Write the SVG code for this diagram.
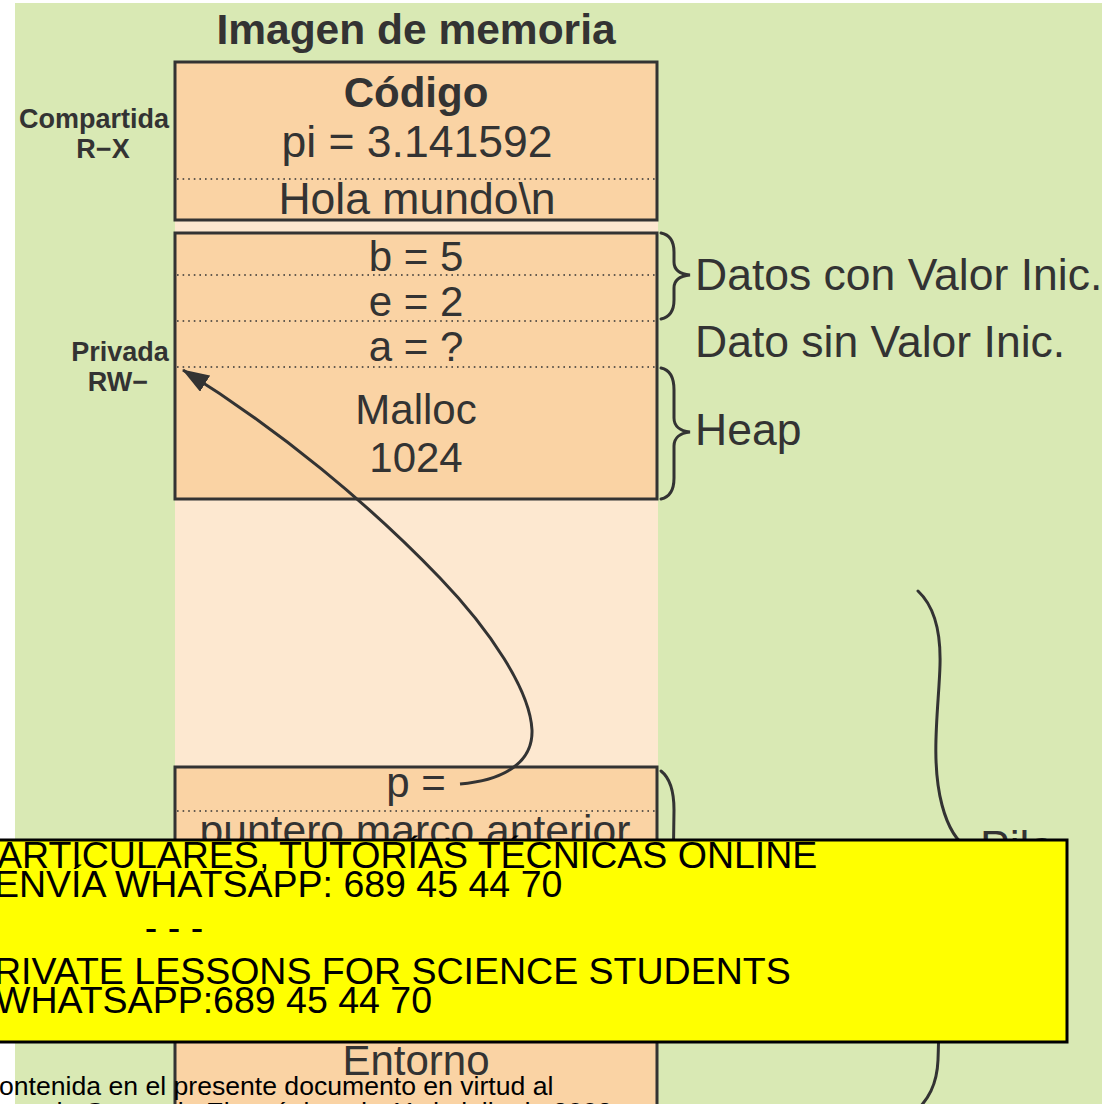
<svg xmlns="http://www.w3.org/2000/svg" width="1102" height="1104" viewBox="0 0 1102 1104">
<style>
  .t { font-family: "Liberation Sans", Arial, sans-serif; fill: #333333; }
  .main { font-size: 42px; text-anchor: middle; }
  .big { font-size: 44.5px; }
  .side { font-size: 44.5px; }
  .bold { font-weight: bold; }
  .small { font-size: 27px; font-weight: bold; text-anchor: middle; }
  .box { fill: #fad3a4; stroke: #333333; stroke-width: 3; }
  .dot { stroke: #333333; stroke-width: 1.6; stroke-dasharray: 1.6 4; fill: none; }
  .brace { fill: none; stroke: #333333; stroke-width: 3; stroke-linecap: round; }
  .wm { font-family: "Liberation Sans", Arial, sans-serif; font-size: 37.5px; fill: #000000; }
  .foot { font-family: "Liberation Sans", Arial, sans-serif; font-size: 26.6px; fill: #000000; }
</style>
<defs>
  <marker id="arrow" viewBox="0 0 27 19" refX="26" refY="9.5" markerWidth="27" markerHeight="19" markerUnits="userSpaceOnUse" orient="auto">
    <path d="M0,0 L27,9.5 L0,19 z" fill="#333333"/>
  </marker>
</defs>

<rect x="0" y="0" width="1102" height="1104" fill="#ffffff"/>
<rect id="background" x="15" y="3" width="1087" height="1101" fill="#d9e9b4"/>
<rect id="column" x="175" y="221" width="483" height="883" fill="#fde8d0"/>

<text class="t bold" x="416" y="44" font-size="42.5" text-anchor="middle">Imagen de memoria</text>

<g id="node-codigo">
  <rect class="box" x="175" y="62" width="482" height="158"/>
  <line class="dot" x1="177" y1="179" x2="655" y2="179"/>
  <text class="t main bold" x="416" y="107">Código</text>
  <text class="t main big" x="417" y="157">pi = 3.141592</text>
  <text class="t main big" x="417" y="214">Hola mundo\n</text>
</g>

<g id="node-datos">
  <rect class="box" x="175" y="233" width="482" height="266"/>
  <line class="dot" x1="177" y1="275" x2="655" y2="275"/>
  <line class="dot" x1="177" y1="321" x2="655" y2="321"/>
  <line class="dot" x1="177" y1="367" x2="655" y2="367"/>
  <text class="t main" x="416" y="271">b = 5</text>
  <text class="t main" x="416" y="316">e = 2</text>
  <text class="t main" x="416" y="361">a = ?</text>
  <text class="t main" x="416" y="424">Malloc</text>
  <text class="t main" x="416" y="472">1024</text>
</g>

<g id="node-pila">
  <rect class="box" x="175" y="767" width="482" height="360"/>
  <line class="dot" x1="177" y1="811" x2="655" y2="811"/>
  <text class="t main" x="416" y="797">p =</text>
  <text class="t main" x="415" y="845" style="font-size:42.6px">puntero marco anterior</text>
  <text class="t main" x="416" y="1075">Entorno</text>
</g>

<g id="labels">
  <text class="t small" x="94" y="128">Compartida</text>
  <text class="t small" x="103" y="158">R−X</text>
  <text class="t small" x="120" y="361">Privada</text>
  <text class="t small" x="118" y="391">RW−</text>
  <text class="t side" x="695" y="290">Datos con Valor Inic.</text>
  <text class="t side" x="695" y="357">Dato sin Valor Inic.</text>
  <text class="t side" x="695" y="445">Heap</text>
  <text class="t side" x="980" y="862">Pila</text>
</g>

<g id="braces">
  <path class="brace" d="M661,233 C671,235 674,242 674,252 L674,262 C674,270 680,274 690,275 C680,276 674,280 674,288 L674,300 C674,310 670,317 661,319"/>
  <path class="brace" d="M661,368 C671,370 674,378 674,390 L674,418 C674,426 680,431 690,432 C680,433 674,438 674,446 L674,478 C674,490 670,497 661,499"/>
  <path class="brace" d="M661,771 C670,778 674,790 674,810 L673,880 C673,890 678,897 688,900 C678,903 673,910 673,920 L673,990 C673,1000 670,1005 662,1008"/>
  <path class="brace" d="M918,591 C933,605 941,630 940,665 C939,705 930,760 942,805 C948,828 958,843 970,850 C958,858 948,872 944,900 C938,950 940,1010 938,1060 C937,1085 928,1100 915,1112"/>
</g>

<g id="connectors">
  <path d="M460,784 C505,780 533,762 532,730 C530,690 490,630 440,578 C370,505 280,430 183,370" fill="none" stroke="#333333" stroke-width="3" marker-end="url(#arrow)"/>
</g>

<g id="watermark">
  <rect x="-10" y="840" width="1077" height="202" fill="#ffff00" stroke="#000000" stroke-width="3"/>
  <text class="wm" x="-3" y="868">ARTICULARES, TUTORÍAS TÉCNICAS ONLINE</text>
  <text class="wm" x="-6" y="897">ENVÍA WHATSAPP: 689 45 44 70</text>
  <text class="wm" x="174" y="940" text-anchor="middle">- - -</text>
  <text class="wm" x="-6" y="984">RIVATE LESSONS FOR SCIENCE STUDENTS</text>
  <text class="wm" x="-5" y="1013">WHATSAPP:689 45 44 70</text>
</g>

<g id="footer">
  <text class="foot" x="-1" y="1095">ontenida en el presente documento en virtud al</text>
  <text class="foot" x="612" y="1121" text-anchor="end">de Comercio Electrónico, de 11 de julio de 2002</text>
</g>
</svg>
